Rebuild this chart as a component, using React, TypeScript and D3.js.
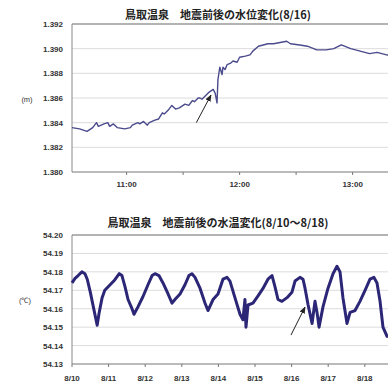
import React from "react";
import * as d3 from "d3";

const W = 388;
const H = 384;

// ---- Top chart: water level on 8/16 ----
const topTitle = "鳥取温泉　地震前後の水位変化(8/16)";
const topTimes = [
  "10:31:00","10:35:00","10:39:00","10:42:00","10:44:00","10:45:00","10:48:00","10:50:00","10:51:00","10:53:00",
  "10:55:00","10:59:00","11:02:00","11:03:00","11:06:00","11:07:00","11:09:00","11:11:00","11:12:00","11:15:00",
  "11:17:00","11:19:00","11:20:00","11:22:00","11:24:00","11:26:00","11:28:00","11:31:00","11:33:00","11:35:00",
  "11:36:00","11:38:00","11:39:00","11:40:00","11:42:00","11:44:00","11:46:00","11:47:00","11:48:00","11:48:30",
  "11:49:30","11:50:40","11:51:10","11:52:15","11:53:20","11:55:00","11:56:30","11:58:40","12:00:00","12:03:00",
  "12:05:30","12:07:00","12:10:00","12:12:30","12:15:00","12:18:00","12:21:30","12:25:00","12:27:00","12:32:00",
  "12:36:00","12:41:00","12:46:00","12:50:00","12:54:00","12:59:00","13:04:00","13:09:00","13:13:00","13:18:00",
  "13:23:00",
];
const topLevels = [
  1.3836,1.3835,1.3833,1.3836,1.3840,1.3837,1.3839,1.3840,1.3837,1.3839,
  1.3836,1.3835,1.3836,1.3838,1.3840,1.3839,1.3841,1.3838,1.3840,1.3842,
  1.3843,1.3848,1.3847,1.3850,1.3854,1.3851,1.3852,1.3855,1.3854,1.3858,
  1.3857,1.3860,1.3860,1.3859,1.3862,1.3865,1.3867,1.3864,1.3856,1.3875,
  1.3885,1.3879,1.3885,1.3883,1.3887,1.3888,1.3890,1.3889,1.3893,1.3894,
  1.3895,1.3898,1.3902,1.3903,1.3904,1.3904,1.3905,1.3906,1.3904,1.3903,
  1.3902,1.3899,1.3899,1.3900,1.3903,1.3900,1.3898,1.3896,1.3897,1.3895,
  1.3894,
];
const topYTicks = [1.380, 1.382, 1.384, 1.386, 1.388, 1.390, 1.392];
const topXLabels = ["11:00", "12:00", "13:00"];
const topXTicks = ["11:00:00","11:30:00","12:00:00","12:30:00","13:00:00","13:30:00"];
const topArrow = { from: ["11:37:00", 1.3840], to: ["11:44:48", 1.38624] };

// ---- Bottom chart: water temperature 8/10 - 8/18 ----
const botTitle = "鳥取温泉　地震前後の水温変化(8/10～8/18)";
const botTimes = [
  "08/10 00:00","08/10 02:00","08/10 04:00","08/10 06:30","08/10 08:30","08/10 10:00","08/10 12:00","08/10 14:00","08/10 16:30","08/10 17:45",
  "08/10 19:45","08/10 21:30","08/11 01:00","08/11 04:00","08/11 07:00","08/11 08:45","08/11 10:45","08/11 12:45","08/11 15:20","08/11 16:40",
  "08/11 19:15","08/11 22:30","08/12 01:50","08/12 04:30","08/12 06:25","08/12 09:00","08/12 11:40","08/12 15:00","08/12 17:35","08/12 19:30",
  "08/12 22:50","08/13 02:05","08/13 04:40","08/13 06:40","08/13 08:40","08/13 12:00","08/13 15:15","08/13 17:10","08/13 20:30","08/13 23:45",
  "08/14 03:00","08/14 05:40","08/14 07:35","08/14 10:50","08/14 14:10","08/14 16:05","08/14 17:25","08/14 18:05","08/14 19:25","08/14 22:40",
  "08/15 02:00","08/15 05:15","08/15 08:30","08/15 11:10","08/15 13:05","08/15 15:05","08/15 17:40","08/15 21:00","08/16 00:15","08/16 02:15",
  "08/16 05:30","08/16 07:30","08/16 08:50","08/16 10:50","08/16 13:25","08/16 15:20","08/16 16:40","08/16 18:00","08/16 20:35","08/16 23:50",
  "08/17 03:10","08/17 05:45","08/17 07:45","08/17 09:40","08/17 12:20","08/17 14:20","08/17 17:35","08/17 20:50","08/18 00:10","08/18 03:25",
  "08/18 06:00","08/18 08:00","08/18 10:00","08/18 11:55","08/18 14:35","08/18 19:50",
];
const botTemps = [
  54.174,54.1765,54.178,54.180,54.179,54.176,54.169,54.161,54.151,54.1575,
  54.166,54.170,54.173,54.1756,54.179,54.178,54.172,54.165,54.160,54.157,
  54.161,54.1665,54.173,54.178,54.179,54.178,54.174,54.168,54.163,54.165,
  54.168,54.173,54.178,54.179,54.177,54.171,54.163,54.159,54.165,54.168,
  54.176,54.177,54.175,54.166,54.157,54.154,54.165,54.150,54.162,54.163,
  54.167,54.171,54.176,54.178,54.172,54.165,54.164,54.166,54.169,54.175,
  54.177,54.176,54.171,54.162,54.152,54.164,54.158,54.150,54.161,54.171,
  54.179,54.183,54.180,54.166,54.152,54.158,54.159,54.164,54.170,54.176,
  54.177,54.174,54.164,54.150,54.145,54.145,
];
const botYTicks = [54.13, 54.14, 54.15, 54.16, 54.17, 54.18, 54.19, 54.20];
const botXLabels = ["8/10", "8/11", "8/12", "8/13", "8/14", "8/15", "8/16", "8/17", "8/18"];
const botArrow = { from: ["08/15 23:36", 54.1457], to: ["08/16 08:48", 54.1609] };

const parseT = d3.timeParse("%H:%M:%S");
const parseD = d3.timeParse("%m/%d %H:%M");

const labelFont = "'Liberation Sans', Arial, sans-serif";
const cjkFont = "'Noto Sans CJK JP', 'Noto Sans', sans-serif";

export default function App() {
  const plotL = 72;
  const tx = d3.scaleTime()
    .domain([parseT("10:31:00")!, parseT("14:00:00")!])
    .range([plotL, plotL + 209 * (113 / 60)]);
  const ty = d3.scaleLinear().domain([1.380, 1.392]).range([172, 24]);
  const topLine = d3.line<number>()
    .x((_, i) => tx(parseT(topTimes[i])!))
    .y((v) => ty(v));

  const bx = d3.scaleTime()
    .domain([parseD("08/10 00:00")!, parseD("08/19 00:00")!])
    .range([plotL, plotL + 9 * 36.6]);
  const by = d3.scaleLinear().domain([54.13, 54.20]).range([364, 235]);
  const botLine = d3.line<number>()
    .x((_, i) => bx(parseD(botTimes[i])!))
    .y((v) => by(v));

  const topFrom = [tx(parseT(topArrow.from[0] as string)!), ty(topArrow.from[1] as number)];
  const topTo = [tx(parseT(topArrow.to[0] as string)!), ty(topArrow.to[1] as number)];
  const botFrom = [bx(parseD(botArrow.from[0] as string)!), by(botArrow.from[1] as number)];
  const botTo = [bx(parseD(botArrow.to[0] as string)!), by(botArrow.to[1] as number)];

  const tickLabelStyle = { fontFamily: labelFont, fontSize: 8, fill: "#333", fontWeight: 700 } as const;
  const titleStyle = { fontFamily: cjkFont, fontSize: 11, fontWeight: 700, fill: "#222" } as const;

  return (
    <svg width={W} height={H} style={{ position: "absolute", left: 0, top: 0, background: "#fff" }}>
      <defs>
        <marker id="ah" viewBox="0 0 10 10" refX="9" refY="5" markerWidth="7" markerHeight="7" orient="auto">
          <path d="M0,1 L10,5 L0,9 z" fill="#222" />
        </marker>
      </defs>

      {/* ---------- TOP CHART ---------- */}
      <text x={218} y={19} textAnchor="middle" style={titleStyle}>{topTitle}</text>
      {topYTicks.slice(1, -1).map((t) => (
        <line key={"tg" + t} x1={plotL} x2={W} y1={ty(t)} y2={ty(t)} stroke="#dcdcdc" strokeWidth={1} />
      ))}
      <line x1={plotL} x2={W} y1={ty(1.392)} y2={ty(1.392)} stroke="#9a9a9a" strokeWidth={1.5} />
      <line x1={plotL} x2={plotL} y1={ty(1.392)} y2={ty(1.380)} stroke="#888" strokeWidth={1} />
      <line x1={plotL} x2={W} y1={ty(1.380)} y2={ty(1.380)} stroke="#777" strokeWidth={1} />
      {topXTicks.map((t) => (
        <line key={"tt" + t} x1={tx(parseT(t)!)} x2={tx(parseT(t)!)} y1={172} y2={175} stroke="#777" />
      ))}
      {topYTicks.map((t) => (
        <text key={"tyl" + t} x={63} y={ty(t) + 3} textAnchor="end" style={tickLabelStyle}>
          {d3.format(".3f")(t)}
        </text>
      ))}
      {topXLabels.map((t) => (
        <text key={"txl" + t} x={tx(parseT(t + ":00")!)} y={187} textAnchor="middle" style={tickLabelStyle}>
          {t}
        </text>
      ))}
      <text x={27} y={102} textAnchor="middle" style={{ ...tickLabelStyle, fontWeight: 400, fontSize: 7.5 }}>(m)</text>
      <path d={topLine(topLevels) || ""} fill="none" stroke="#4a4a8c" strokeWidth={1.4} strokeLinejoin="round" />
      <line x1={topFrom[0]} y1={topFrom[1]} x2={topTo[0]} y2={topTo[1]} stroke="#222" strokeWidth={1} markerEnd="url(#ah)" />

      {/* ---------- BOTTOM CHART ---------- */}
      <text x={218} y={227} textAnchor="middle" style={titleStyle}>{botTitle}</text>
      {botYTicks.slice(1, -1).map((t) => (
        <line key={"bg" + t} x1={plotL} x2={W} y1={by(t)} y2={by(t)} stroke="#dcdcdc" strokeWidth={1} />
      ))}
      <line x1={plotL} x2={W} y1={by(54.2)} y2={by(54.2)} stroke="#9a9a9a" strokeWidth={1.5} />
      <line x1={plotL} x2={plotL} y1={by(54.2)} y2={by(54.13)} stroke="#888" strokeWidth={1} />
      <line x1={plotL} x2={W} y1={by(54.13)} y2={by(54.13)} stroke="#777" strokeWidth={1} />
      {botXLabels.map((t, i) => {
        const d = d3.timeDay.offset(parseD("08/10 00:00")!, i);
        const x = bx(d);
        return (
          <g key={"bx" + t}>
            <line x1={x} x2={x} y1={364} y2={367} stroke="#777" />
            <text x={x} y={381} textAnchor="middle" style={tickLabelStyle}>{t}</text>
          </g>
        );
      })}
      {botYTicks.map((t) => (
        <text key={"byl" + t} x={63} y={by(t) + 3} textAnchor="end" style={tickLabelStyle}>
          {d3.format(".2f")(t)}
        </text>
      ))}
      <text x={25} y={303} textAnchor="middle" style={{ ...tickLabelStyle, fontWeight: 400, fontSize: 7.5 }}>(℃)</text>
      <path d={botLine(botTemps) || ""} fill="none" stroke="#2c2677" strokeWidth={3} strokeLinejoin="round" />
      <line x1={botFrom[0]} y1={botFrom[1]} x2={botTo[0]} y2={botTo[1]} stroke="#222" strokeWidth={1} markerEnd="url(#ah)" />
    </svg>
  );
}
